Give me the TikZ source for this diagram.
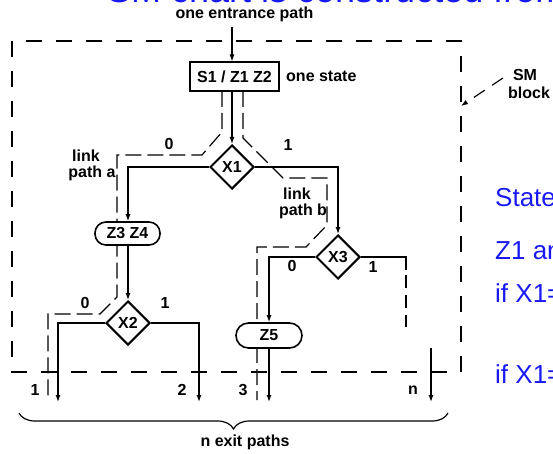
\documentclass[tikz,border=0pt]{standalone}
\usepackage{fontspec}
\setmainfont{Liberation Sans}
\usetikzlibrary{arrows.meta,shapes.geometric,decorations.pathreplacing}
\definecolor{slideblue}{RGB}{25,25,245}
\tikzset{
  bfont/.style={font=\fontsize{16}{18}\selectfont\bfseries},
  lbl/.style={bfont, inner sep=0pt},
  dec/.style={diamond, draw, line width=2pt, minimum width=44pt, minimum height=44pt, inner sep=0pt, fill=white, bfont},
  cond/.style={draw, line width=1.6pt, rounded corners=11pt, minimum width=65pt, minimum height=23pt, inner sep=0pt, fill=white, bfont},
  statebox/.style={draw, line width=2pt, minimum width=89pt, minimum height=29pt, inner sep=0pt, fill=white, bfont},
  conn/.style={line width=1.2pt, -{Latex[length=7pt,width=5pt]}},
  wire/.style={line width=1.2pt},
  linkpath/.style={line width=1.2pt, dash pattern=on 16pt off 6pt},
  blockline/.style={line width=1.2pt, dash pattern=on 16pt off 14pt},
  bluetext/.style={text=slideblue, font=\fontsize{26}{30}\selectfont, inner sep=0pt, anchor=base west},
}
\begin{document}
\begin{tikzpicture}[x=1pt, y=-1pt]
\useasboundingbox (0,0) rectangle (553,454);
\clip (0,0) rectangle (553,454);

% slide text (partly cut off)
\node[bluetext, font=\fontsize{36}{40}\selectfont] (title) at (107,2.5) {SM chart is constructed from};
\node[bluetext] (t1) at (495,207) {State};
\node[bluetext] (t2) at (495,259) {Z1 and};
\node[bluetext] (t3) at (495,302) {if X1=};
\node[bluetext] (t4) at (495,383) {if X1=};

% SM block outline
\draw[blockline] (12,41) rectangle (461,372);

% link paths
\draw[linkpath] (222,91) -- (222,132) -- (202,155) -- (117,155) -- (117,297) -- (100,314) -- (48,314) -- (48,400);
\draw[linkpath] (243,91) -- (243,138) -- (283,178) -- (327,178) -- (327,225) -- (306,247) -- (257,247) -- (257,400);

% nodes
\node[lbl, anchor=base] (entr) at (244.5,18.5) {one entrance path};
\coordinate (e0) at (232,27);
\node[statebox] (s1) at (234.5,77) {S1 / Z1 Z2};
\node[lbl, anchor=west] (onestate) at (286,76) {one state};
\node[dec] (x1) at (232,167) {X1};
\node[cond] (z34) at (127.5,233.5) {Z3 Z4};
\node[dec] (x2) at (128,323) {X2};
\node[dec] (x3) at (338,257) {X3};
\node[cond, rounded corners=12.5pt, minimum width=66pt, minimum height=25pt] (z5) at (269,335.5) {Z5};

% connectors
\draw[conn] (e0) -- (e0 |- s1.north);
\draw[conn] (x1.north |- s1.south) -- (x1.north);
\draw[conn] (x1.west) -| (z34.north -| 128,0);
\draw[conn] (z34.south -| x2.north) -- (x2.north);
\draw[conn] (x1.east) -| (x3.north);
\draw[conn] (x3.west) -| (z5.north);
\coordinate (e1) at (58,402);
\coordinate (e2) at (199,402);
\coordinate (e3) at (269,402);
\coordinate (en0) at (431,348);
\coordinate (en) at (431,402);
\coordinate (r1) at (406,270);
\coordinate (r2) at (406,275);
\coordinate (r3) at (406,327);
\draw[conn] (x2.west) -| (e1);
\draw[conn] (x2.east) -| (e2);
\draw[conn] (z5.south) -- (e3);
\draw[wire] (x3.east) -| (r1);
\draw[wire, dash pattern=on 13pt off 7pt] (r2) -- (r3);
\draw[conn] (en0) -- (en);

% branch labels
\node[lbl] (l0a) at (169,144) {0};
\node[lbl] (l1a) at (288,145) {1};
\node[lbl] (l0b) at (85,303) {0};
\node[lbl] (l1b) at (165,303) {1};
\node[lbl] (l0c) at (292,266) {0};
\node[lbl] (l1c) at (373,267) {1};
\node[lbl] (lka) at (86,156) {link};
\node[lbl] (pta) at (92,173) {path a};
\node[lbl] (lkb) at (297,194) {link};
\node[lbl] (ptb) at (303,211) {path b};

% exit labels
\node[lbl] (x1l) at (35,390) {1};
\node[lbl] (x2l) at (182,390) {2};
\node[lbl] (x3l) at (243,390) {3};
\node[lbl] (xnl) at (413,390) {n};

% SM block annotation
\node[lbl] (sm) at (525,75) {SM};
\node[lbl, anchor=west] (blk) at (508,93) {block};
\coordinate (sma) at (503,78);
\coordinate (smb) at (461,106);
\draw[line width=1.2pt, dash pattern=on 13pt off 9pt, -{Latex[length=7pt,width=5pt]}] (sma) -- (smb);

% brace
\coordinate (b1) at (19,413);
\coordinate (b2) at (448,413);
\draw[line width=1.2pt, decorate, decoration={brace, mirror, amplitude=16pt}] (b1) -- (b2);
\node[lbl] (exits) at (245,442) {n exit paths};
\end{tikzpicture}
\end{document}
